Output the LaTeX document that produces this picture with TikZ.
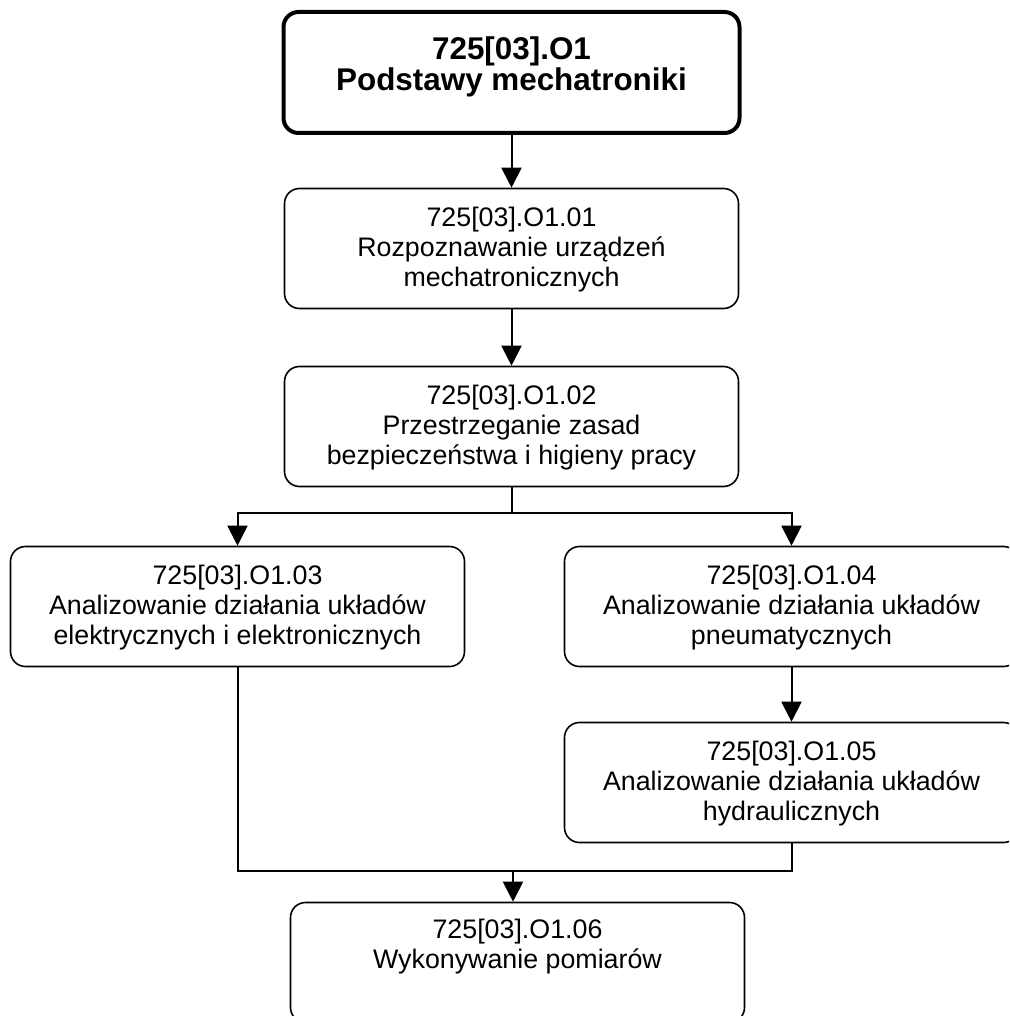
\documentclass[tikz,border=0pt]{standalone}
\usepackage{fontspec}
\setmainfont{Liberation Sans}
\usepackage{tikz}
\usetikzlibrary{arrows.meta}
\tikzstyle{mainbox} = [rectangle, rounded corners=7.5pt, minimum width=228pt, minimum height=60.5pt, text centered, align=center, draw=black, line width=2pt, font=\bfseries\fontsize{15.7}{15.5}\selectfont]
\tikzstyle{unitbox} = [rectangle, rounded corners=7.5pt, minimum width=227pt, minimum height=60pt, text centered, align=center, draw=black, line width=0.8pt, font=\fontsize{13.4}{15}\selectfont]
\tikzstyle{arrow} = [line width=1pt, -{Triangle[length=10pt,width=10pt]}]
\tikzstyle{line} = [line width=1pt]

\begin{document}
\begin{tikzpicture}[x=0.5pt, y=-0.5pt, node distance=88pt]
\useasboundingbox (0,0) rectangle (1009,1016);
\clip (0,0) rectangle (1009,1016);
% NODES
\node (podstawy) [mainbox] at (511.5,72.5) {725[03].O1\\Podstawy mechatroniki\\[-7pt]~};
\node (urzadzenia) [unitbox, below of=podstawy] {725[03].O1.01\\Rozpoznawanie urządzeń\\mechatronicznych\\[-13pt]~};
\node (bhp) [unitbox, below of=urzadzenia, yshift=-1pt] {725[03].O1.02\\Przestrzeganie zasad\\bezpieczeństwa i higieny pracy\\[-13pt]~};

\node (elektryczne) [unitbox, below of=bhp, xshift=-137pt, yshift=-2pt] {725[03].O1.03\\Analizowanie działania układów\\elektrycznych i elektronicznych\\[-13pt]~};
\node (pneumatyczne) [unitbox, below of=bhp, xshift=140pt, yshift=-2pt] {725[03].O1.04\\Analizowanie działania układów\\pneumatycznych\\[-13pt]~};
\node (hydrauliczne) [unitbox, below of=pneumatyczne] {725[03].O1.05\\Analizowanie działania układów\\hydraulicznych\\[-13pt]~};

\node (pomiary) [unitbox, below of=bhp, xshift=3pt, yshift=-180pt] {725[03].O1.06\\Wykonywanie pomiarów\\[4pt]~};

\coordinate (split) at (511.5,513);
\coordinate (join) at (513,871);

% ARROWS
\draw [arrow] (podstawy) -- (urzadzenia);
\draw [arrow] (urzadzenia) -- (bhp);

\draw [line] (bhp) -- (split);
\draw [arrow] (split) -| (elektryczne);
\draw [arrow] (split) -| (pneumatyczne);
\draw [arrow] (pneumatyczne) -- (hydrauliczne);

\draw [line] (elektryczne) |- (join);
\draw [line] (hydrauliczne) |- (join);
\draw [arrow] (join) -- (join |- pomiary.north);
\end{tikzpicture}
\end{document}
